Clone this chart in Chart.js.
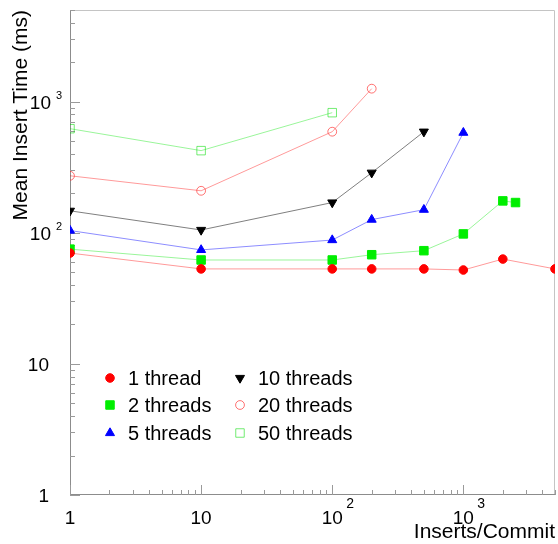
<!DOCTYPE html>
<html>
<head>
<meta charset="utf-8">
<script src="https://cdn.jsdelivr.net/npm/chart.js@4.4.0/dist/chart.umd.min.js"></script>
<style>
  html, body { margin: 0; padding: 0; background: #ffffff; }
  #wrap { width: 558px; height: 544px; }
</style>
</head>
<body>
<div id="wrap"><canvas id="c" width="558" height="544"></canvas></div>
<script>
// ---- data ----
const seriesLabels = ['1 thread', '2 threads', '5 threads', '10 threads', '20 threads', '50 threads'];

const x1Thread  = [1, 10, 100, 200, 500, 1000, 2000, 5000];
const y1Thread  = [70, 53, 53, 53, 53, 52, 63, 53];

const x2Threads = [1, 10, 100, 200, 500, 1000, 2000, 2500];
const y2Threads = [75, 62, 62, 68, 73, 98, 175, 170];

const x5Threads = [1, 10, 100, 200, 500, 1000];
const y5Threads = [104, 74, 88, 126, 150, 580];

const x10Threads = [1, 10, 100, 200, 500];
const y10Threads = [147, 105, 170, 287, 590];

const x20Threads = [1, 10, 100, 200];
const y20Threads = [272, 209, 590, 1256];

const x50Threads = [1, 10, 100];
const y50Threads = [622, 423, 824];

const axisMin = 1;
const axisMax = 5000;

const xTickValues = [1, 10, 100, 1000];
const xTickBase   = ['1', '10', '10', '10'];
const xTickExp    = ['', '', '2', '3'];

const yTickValues = [1, 10, 100, 1000];
const yTickBase   = ['1', '10', '10', '10'];
const yTickExp    = ['', '', '2', '3'];

const xTitle = 'Inserts/Commit';
const yTitle = 'Mean Insert Time (ms)';

// ---- build ----
const FONT = '"Liberation Sans", Arial, Helvetica, sans-serif';

function pts(xs, ys) { return xs.map((x, i) => ({ x: x, y: ys[i] })); }

const styles = [
  { line: 'rgba(255,0,0,0.40)',   pStyle: 'circle',   r: 4.3, rot: 0,   fill: '#ff0000', stroke: '#ff0000', bw: 1 },
  { line: 'rgba(0,230,0,0.40)',   pStyle: 'rect',     r: 6.0, rot: 0,   fill: '#00ee00', stroke: '#00ee00', bw: 1 },
  { line: 'rgba(0,0,255,0.45)',   pStyle: 'triangle', r: 5.2, rot: 0,   fill: '#0000ff', stroke: '#0000ff', bw: 1 },
  { line: 'rgba(0,0,0,0.50)',     pStyle: 'triangle', r: 5.2, rot: 180, fill: '#000000', stroke: '#000000', bw: 1 },
  { line: 'rgba(255,0,0,0.40)',   pStyle: 'circle',   r: 4.4, rot: 0,   fill: 'rgba(0,0,0,0)', stroke: 'rgba(255,40,40,0.65)', bw: 1 },
  { line: 'rgba(0,230,0,0.40)',   pStyle: 'rect',     r: 6.0, rot: 0,   fill: 'rgba(0,0,0,0)', stroke: 'rgba(0,220,0,0.55)', bw: 1 }
];

const seriesData = [
  pts(x1Thread, y1Thread),
  pts(x2Threads, y2Threads),
  pts(x5Threads, y5Threads),
  pts(x10Threads, y10Threads),
  pts(x20Threads, y20Threads),
  pts(x50Threads, y50Threads)
];

const datasets = seriesLabels.map((lab, i) => ({
  label: lab,
  data: seriesData[i],
  borderColor: styles[i].line,
  borderWidth: 1,
  backgroundColor: styles[i].fill,
  pointStyle: styles[i].pStyle,
  pointRotation: styles[i].rot,
  pointRadius: styles[i].r,
  pointBackgroundColor: styles[i].fill,
  pointBorderColor: styles[i].stroke,
  pointBorderWidth: styles[i].bw,
  pointHoverRadius: styles[i].r,
  tension: 0,
  fill: false
}));

const decorPlugin = {
  id: 'decor',
  beforeDatasetsDraw(chart) {
    const ctx = chart.ctx, a = chart.chartArea;
    const xs = chart.scales.x, ys = chart.scales.y;
    ctx.save();
    ctx.lineWidth = 1;
    // light top/right frame
    ctx.strokeStyle = '#c4c4c4';
    ctx.beginPath();
    ctx.moveTo(a.left, a.top + 0.5);
    ctx.lineTo(a.right - 0.5, a.top + 0.5);
    ctx.lineTo(a.right - 0.5, a.bottom);
    ctx.stroke();
    // axes
    ctx.strokeStyle = '#8c8c8c';
    ctx.beginPath();
    ctx.moveTo(a.left + 0.5, a.top);
    ctx.lineTo(a.left + 0.5, a.bottom - 0.5);
    ctx.lineTo(a.right, a.bottom - 0.5);
    ctx.stroke();
    // ticks (inside)
    ctx.strokeStyle = '#9a9a9a';
    ctx.beginPath();
    for (let k = 0; k <= 4; k++) {
      for (let m = 1; m <= 9; m++) {
        const v = m * Math.pow(10, k);
        if (v < axisMin || v > axisMax) continue;
        const len = (m === 1) ? 10 : 5;
        const py = Math.round(ys.getPixelForValue(v)) + 0.5;
        ctx.moveTo(a.left, py);
        ctx.lineTo(a.left + len, py);
        const px = Math.round(xs.getPixelForValue(v)) + 0.5;
        ctx.moveTo(px, a.bottom);
        ctx.lineTo(px, a.bottom - len);
      }
    }
    ctx.stroke();
    ctx.restore();
  },
  afterDraw(chart) {
    const ctx = chart.ctx, a = chart.chartArea;
    const xs = chart.scales.x, ys = chart.scales.y;
    ctx.save();
    ctx.fillStyle = '#000000';
    ctx.textBaseline = 'middle';
    // y tick labels
    yTickValues.forEach((v, i) => {
      const py = ys.getPixelForValue(v);
      ctx.font = '19px ' + FONT;
      if (!yTickExp[i]) {
        ctx.textAlign = 'right';
        ctx.fillText(yTickBase[i], 49, py + 2);
      } else {
        ctx.textAlign = 'right';
        ctx.fillText(yTickBase[i], 51, py + 2);
        ctx.font = '11px ' + FONT;
        ctx.textAlign = 'left';
        ctx.fillText(yTickExp[i], 56, py - 6);
      }
    });
    // x tick labels
    xTickValues.forEach((v, i) => {
      const px = xs.getPixelForValue(v);
      ctx.font = '19px ' + FONT;
      ctx.textAlign = 'center';
      ctx.fillText(xTickBase[i], px, 519);
      if (xTickExp[i]) {
        ctx.font = '14px ' + FONT;
        ctx.textAlign = 'left';
        ctx.fillText(xTickExp[i], px + 14, 504);
      }
    });
    // legend (two columns inside plot)
    const cols = [110, 240];
    const rows = [378, 405, 433];
    ctx.font = '20px ' + FONT;
    ctx.textAlign = 'left';
    chart.data.datasets.forEach((ds, i) => {
      const cx = cols[Math.floor(i / 3)];
      const cy = rows[i % 3];
      ctx.save();
      ctx.fillStyle = ds.pointBackgroundColor;
      ctx.strokeStyle = ds.pointBorderColor;
      ctx.lineWidth = ds.pointBorderWidth;
      Chart.helpers.drawPoint(ctx, {
        pointStyle: ds.pointStyle,
        rotation: ds.pointRotation,
        radius: ds.pointRadius,
        borderWidth: ds.pointBorderWidth
      }, cx, cy);
      ctx.restore();
      ctx.fillStyle = '#000000';
      ctx.fillText(ds.label, cx + 18, cy + 1);
    });
    ctx.restore();
  }
};

new Chart(document.getElementById('c'), {
  type: 'line',
  data: { datasets: datasets },
  options: {
    responsive: false,
    devicePixelRatio: 1,
    animation: false,
    events: [],
    layout: { autoPadding: false, padding: { top: 10, right: 3, left: 0, bottom: 0 } },
    plugins: {
      legend: { display: false },
      tooltip: { enabled: false },
      title: { display: false }
    },
    scales: {
      x: {
        type: 'logarithmic',
        position: 'bottom',
        min: axisMin,
        max: axisMax,
        ticks: { display: false },
        grid: { display: false },
        border: { display: false },
        title: {
          display: true,
          text: xTitle,
          align: 'end',
          color: '#000000',
          font: { family: FONT, size: 21, lineHeight: 1 },
          padding: { top: 0, bottom: 1 }
        },
        afterFit(scale) { scale.height = 49; }
      },
      y: {
        type: 'logarithmic',
        position: 'left',
        min: axisMin,
        max: axisMax,
        ticks: { display: false },
        grid: { display: false },
        border: { display: false },
        title: {
          display: true,
          text: yTitle,
          align: 'end',
          color: '#000000',
          font: { family: FONT, size: 21, lineHeight: 1 },
          padding: { top: 11, bottom: 0 }
        },
        afterFit(scale) { scale.width = 70; }
      }
    }
  },
  plugins: [decorPlugin]
});
</script>
</body>
</html>
